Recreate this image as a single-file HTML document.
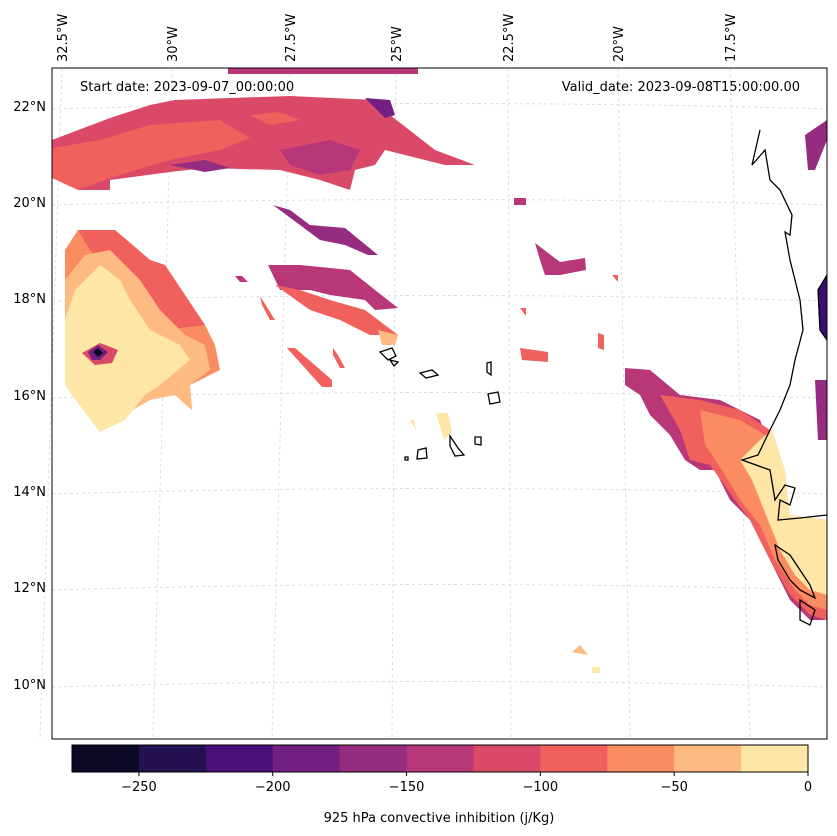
<!DOCTYPE html>
<html><head><meta charset="utf-8"><style>
html,body{margin:0;padding:0;background:#fff;}
svg{display:block;font-family:"DejaVu Sans","Liberation Sans",sans-serif;}
</style></head><body>
<svg id="chart" width="837" height="836" viewBox="0 0 837 836" xmlns="http://www.w3.org/2000/svg">
<defs><clipPath id="mapclip"><rect x="52" y="68" width="775" height="671"/></clipPath></defs>
<g id="grid"></g>
<g id="fills" clip-path="url(#mapclip)"></g>
<g id="coast" clip-path="url(#mapclip)" fill="none" stroke="#000" stroke-width="1.3">
<path d="M760,130 L752,165 L765,150 L770,180 L780,190 L792,215 L790,235 L785,232 L790,260 L800,300 L803,330 L795,360 L790,385 L780,410 L770,430 L758,455 L742,460 L770,470 L775,500 L785,485 L795,488 L790,505 L780,500 L778,520 L800,518 L827,515" />
<path d="M827,275 L818,290 L820,330 L827,340" fill="#3b0f70"/>
<path d="M775,545 L790,555 L800,570 L810,585 L815,598 L800,590 L790,580 L778,560 Z"/>
<path d="M800,600 L815,610 L810,625 L800,620 Z"/>
<path d="M380,352 L392,348 L396,356 L388,360 Z"/>
<path d="M390,360 L398,362 L394,366 Z"/>
<path d="M420,373 L432,370 L438,375 L426,378 Z"/>
<path d="M487,363 L491,362 L491,375 L487,372 Z"/>
<path d="M488,394 L498,392 L500,402 L490,404 Z"/>
<path d="M450,436 L458,448 L464,455 L455,456 L450,446 Z"/>
<path d="M475,437 L481,437 L481,445 L475,444 Z"/>
<path d="M418,450 L426,448 L427,458 L417,459 Z"/>
<path d="M405,457 L408,457 L408,460 L405,460 Z"/>
</g>
<rect x="52" y="68" width="775" height="671" fill="none" stroke="#000" stroke-width="1"/>
<g id="latlabels" font-size="13"></g>
<g id="lonlabels" font-size="13"></g>
<text x="80" y="91" font-size="13">Start date: 2023-09-07_00:00:00</text>
<text x="800" y="91" font-size="13" text-anchor="end">Valid_date: 2023-09-08T15:00:00.00</text>
<g id="cbar"></g>
<text x="439" y="822" font-size="13" text-anchor="middle">925 hPa convective inhibition (j/Kg)</text>
</svg>
<script>
const levels = [-275,-250,-225,-200,-175,-150,-125,-100,-75,-50,-25,0];
const levelColors = ["#0c0926","#231151","#4b0f79","#711f81","#952c80","#b73779","#da4a68","#f0605d","#fb8b61","#fdbb82","#fde6a6"];
const cbarTicks = [-250,-200,-150,-100,-50,0];
const latTicks = [22,20,18,16,14,12,10];
const latTickY = [106,202,298,395,491,587,684];
const lonTicks = ["32.5°W","30°W","27.5°W","25°W","22.5°W","20°W","17.5°W"];
const lonTop = [62,172,290,396,508,618,730];
const lonBot = [40,153,272,392,511,630,750];
// contour regions: [value, polygon points]
const regions = [
 [-110,"52,140 110,118 150,105 175,100 230,98 290,96 375,100 390,115 435,150 475,165 445,165 385,150 375,165 355,170 350,190 320,180 280,170 205,168 170,172 110,180 110,190 78,190 65,178 52,178"],
 [-90,"52,148 100,140 150,125 220,120 250,138 220,150 170,160 110,178 78,190 52,178"],
 [-90,"250,115 280,112 300,120 270,125"],
 [-130,"280,150 330,140 360,150 350,170 320,175 290,165"],
 [-160,"170,165 205,160 230,168 205,172"],
 [-180,"365,98 390,100 395,115 385,118"],
 [-130,"228,68 418,68 418,74 228,74"],
 [-160,"273,205 290,210 310,225 345,228 378,255 368,255 345,245 320,240 300,225"],
 [-140,"268,265 300,265 350,270 375,290 398,308 375,310 365,300 330,295 310,290 280,290"],
 [-95,"275,285 300,290 330,300 365,310 398,335 370,335 340,320 310,310"],
 [-130,"235,276 242,276 248,282 240,282"],
 [-100,"260,296 275,320 270,320 262,305"],
 [-100,"287,348 295,348 332,380 332,387 322,387"],
 [-100,"333,348 338,355 345,368 340,368 333,355"],
 [-60,"65,250 78,230 115,230 150,260 165,265 205,325 215,345 220,370 190,385 192,410 175,395 160,385 145,385 115,420 100,432 65,385"],
 [-80,"78,230 115,230 150,260 165,265 205,325 165,330 140,300 110,270 90,250"],
 [-40,"65,280 85,255 110,250 140,280 160,310 185,335 205,345 210,370 190,385 192,410 175,395 150,400 115,420 100,432 65,385"],
 [-15,"65,320 75,290 100,265 120,280 130,300 150,330 180,345 190,360 160,385 145,395 125,420 100,432 65,385"],
 [-120,"82,353 100,343 118,350 112,363 95,365"],
 [-190,"88,352 98,345 108,352 100,360 92,360"],
 [-260,"93,352 98,348 103,353 98,357"],
 [-50,"378,330 398,335 395,345 382,345"],
 [-20,"436,413 448,413 452,432 444,440"],
 [-20,"410,420 414,420 416,430"],
 [-150,"514,198 526,198 526,205 514,205"],
 [-130,"535,243 560,262 585,258 586,270 560,275 545,275 540,260"],
 [-100,"612,275 618,275 618,282"],
 [-100,"520,308 526,308 526,316"],
 [-90,"520,348 548,352 548,362 522,360"],
 [-80,"598,333 604,335 604,350 598,348"],
 [-140,"625,368 650,370 680,395 720,400 760,420 785,480 790,520 827,520 827,620 810,620 790,600 770,560 750,520 730,500 715,470 700,470 685,460 670,435 650,415 640,395 625,385"],
 [-100,"660,395 700,400 740,410 770,430 785,480 790,520 827,520 827,620 810,615 790,595 770,560 750,520 735,500 710,465 690,460 680,430"],
 [-60,"700,410 740,420 765,435 780,470 790,515 827,520 827,610 810,605 795,590 775,560 760,525 740,500 722,470 705,445"],
 [-15,"740,460 760,440 772,430 785,470 790,515 827,520 827,595 810,590 795,575 780,550 770,525 760,500 752,480"],
 [-160,"815,380 827,380 827,440 818,440"],
 [-160,"805,135 827,120 827,140 815,170 808,170"],
 [-30,"572,652 580,645 588,655"],
 [-20,"592,667 600,667 600,673 592,673"]
];
const NS='http://www.w3.org/2000/svg';
function colorFor(v){for(let i=0;i<levels.length-1;i++){if(v>=levels[i]&&v<levels[i+1])return levelColors[i];}return levelColors[levelColors.length-1];}
const fills=document.getElementById('fills');
regions.forEach(r=>{const p=document.createElementNS(NS,'polygon');p.setAttribute('points',r[1]);p.setAttribute('fill',colorFor(r[0]));


fills.appendChild(p);});
const grid=document.getElementById('grid');
latTickY.forEach((y,i)=>{const l=document.createElementNS(NS,'path');l.setAttribute('d',`M52,${y+3} Q440,${y-8} 827,${y+3}`);l.setAttribute('stroke','#ddd');l.setAttribute('stroke-dasharray','3,3');l.setAttribute('fill','none');


grid.appendChild(l);
const t=document.createElementNS(NS,'text');t.setAttribute('x',46);t.setAttribute('y',y+5);t.setAttribute('text-anchor','end');t.textContent=latTicks[i]+'°N';


document.getElementById('latlabels').appendChild(t);});
lonTicks.forEach((s,i)=>{const l=document.createElementNS(NS,'line');l.setAttribute('x1',lonTop[i]);l.setAttribute('y1',68);l.setAttribute('x2',lonBot[i]);l.setAttribute('y2',739);l.setAttribute('stroke','#ddd');l.setAttribute('stroke-dasharray','3,3');


grid.appendChild(l);
const t=document.createElementNS(NS,'text');t.setAttribute('transform',`translate(${lonTop[i]+5},62) rotate(-90)`);t.textContent=s;


document.getElementById('lonlabels').appendChild(t);});
const cb=document.getElementById('cbar');const cx0=72,cx1=808,cy=745,ch=27;
const cxs=v=>cx0+(v-levels[0])/(levels[levels.length-1]-levels[0])*(cx1-cx0);
levelColors.forEach((c,i)=>{const r=document.createElementNS(NS,'rect');r.setAttribute('x',cxs(levels[i]));r.setAttribute('y',cy);r.setAttribute('width',cxs(levels[i+1])-cxs(levels[i])+0.5);r.setAttribute('height',ch);r.setAttribute('fill',c);


cb.appendChild(r);});
const fr=document.createElementNS(NS,'rect');fr.setAttribute('x',cx0);fr.setAttribute('y',cy);fr.setAttribute('width',cx1-cx0);fr.setAttribute('height',ch);fr.setAttribute('fill','none');fr.setAttribute('stroke','#000');


cb.appendChild(fr);
cbarTicks.forEach(v=>{const x=cxs(v);const l=document.createElementNS(NS,'line');l.setAttribute('x1',x);l.setAttribute('x2',x);l.setAttribute('y1',cy+ch);l.setAttribute('y2',cy+ch+4);l.setAttribute('stroke','#000');


cb.appendChild(l);
const t=document.createElementNS(NS,'text');t.setAttribute('x',x);t.setAttribute('y',cy+ch+19);t.setAttribute('text-anchor','middle');t.setAttribute('font-size','13');t.textContent=v<0?'\u2212'+Math.abs(v):String(v);


cb.appendChild(t);});
</script>
</body></html>
